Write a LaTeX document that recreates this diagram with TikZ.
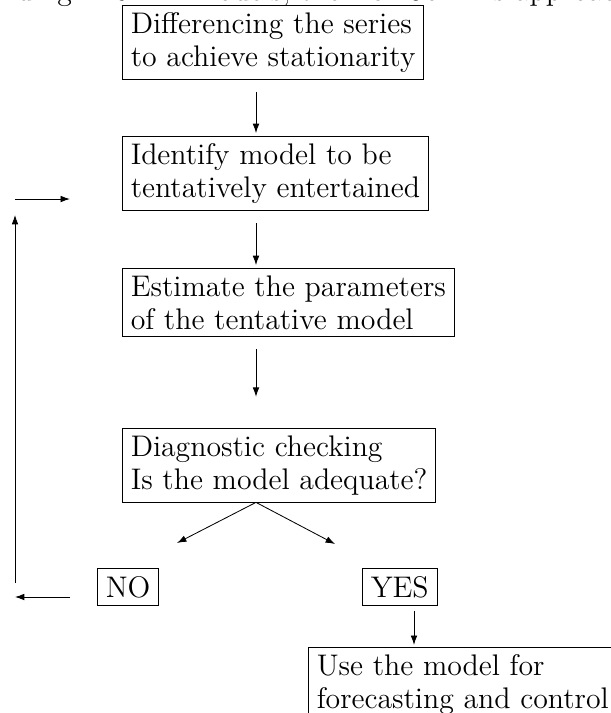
\documentclass[tikz,border=0pt]{standalone}
\usepackage{tikz}
\usetikzlibrary{arrows.meta}

\begin{document}
\begin{tikzpicture}[x=0.48pt,y=-0.48pt,>={Latex[length=4.5pt,width=3.2pt]},
    stagebox/.style={draw,anchor=north west,align=left,inner xsep=4pt,inner ysep=3.4pt,
      font=\fontsize{14.3}{15.8}\selectfont},
    answerbox/.style={stagebox,minimum height=17.8pt}]

        \useasboundingbox (0,0) rectangle (611,713);
        \clip (0,0) rectangle (611,713);

        % line of the page text above, cut off
        \node[anchor=base west,inner sep=0pt,font=\fontsize{14.3}{15.8}\selectfont] (pagetext) at (-16,0.5)
            {finding ARIMA models, the Box-Jenkins approach};

        % stages
        \node[stagebox] (diff) at (122,5) {Differencing the series\\to achieve stationarity};
        \node[stagebox] (ident) at (122,136) {Identify model to be\\tentatively entertained};
        \node[stagebox] (estim) at (122,268) {Estimate the parameters\\of the tentative model};
        \node[stagebox] (check) at (122,428) {Diagnostic checking\\Is the model adequate?};
        \node[answerbox] (no) at (97,568) {NO};
        \node[answerbox] (yes) at (362,568) {YES};
        \node[stagebox] (use) at (308,647) {Use the model for\\forecasting and control};

        % free ends
        \coordinate (spine) at (256,0);
        \coordinate (noend) at (177,543);
        \coordinate (yesend) at (335,544);
        \coordinate (backlow) at (15,597);
        \coordinate (backfoot) at (15,583);
        \coordinate (backtop) at (15,215);
        \coordinate (loopstart) at (15,199);
        \coordinate (yesdrop) at (414,611);

        % main chain
        \draw[->,shorten <=6pt,shorten >=1.4pt] (diff.south -| spine) -- (ident.north -| spine);
        \draw[->,shorten <=6pt,shorten >=1.4pt] (ident.south -| spine) -- (estim.north -| spine);
        \draw[->,shorten <=6pt,shorten >=15pt] (estim.south -| spine) -- (check.north -| spine);

        % adequate or not
        \draw[->] (check.south -| spine) -- (noend);
        \draw[->] (check.south -| spine) -- (yesend);

        % back to identification
        \draw[->,shorten <=13pt] (no.west |- backlow) -- (backlow);
        \draw[->] (backfoot) -- (backtop);
        \draw[->,shorten >=25pt] (loopstart) -- (loopstart -| ident.west);

        % forecasting
        \draw[->,shorten >=1pt] (yesdrop) -- (yesdrop |- use.north);

    \end{tikzpicture}
\end{document}
